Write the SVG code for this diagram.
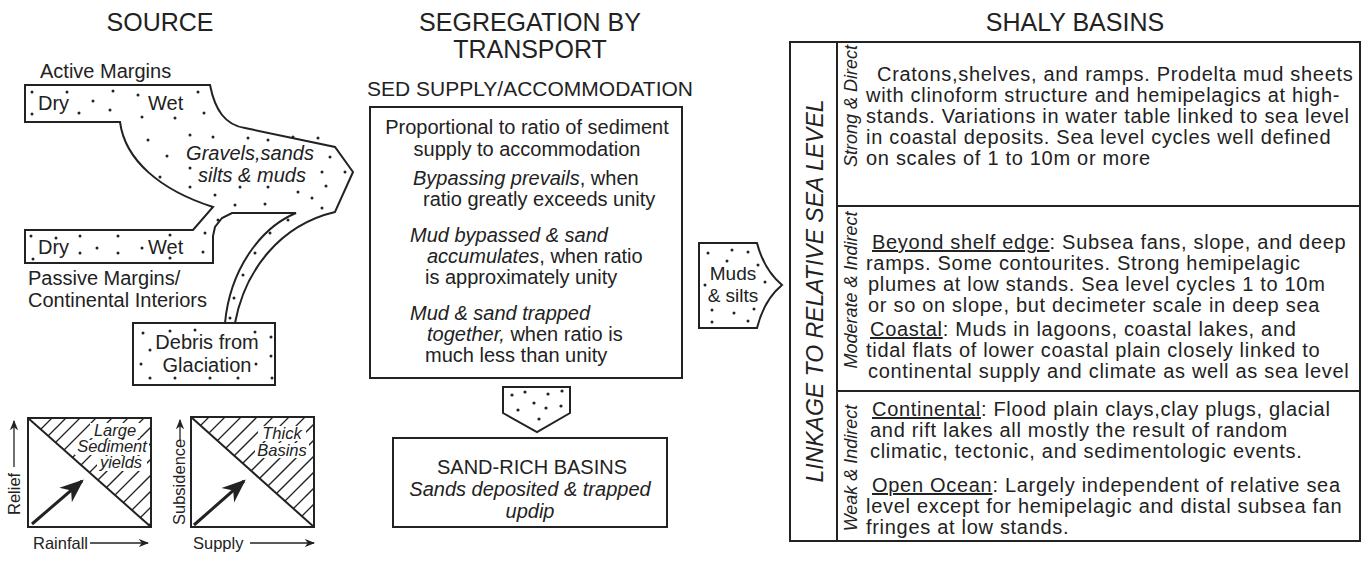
<svg xmlns="http://www.w3.org/2000/svg" width="1368" height="561" viewBox="0 0 1368 561">
<style>
text{font-family:"Liberation Sans",Arial,sans-serif;fill:#222}
.t{font-size:25px}
.n{font-size:20px}
.r{font-size:20px;letter-spacing:0.7px}
.s{font-size:20px}
.i{font-style:italic}
.sh{fill:none;stroke:#222;stroke-width:2}
.th{stroke:#222;stroke-width:1.3}
.d{fill:#222}
.m{text-anchor:middle}
.g{font-size:16.5px}
</style>
<defs>
<marker id="ah" viewBox="0 0 10 10" refX="9" refY="5" markerWidth="8" markerHeight="8" orient="auto"><path d="M0,1 L10,5 L0,9 L3,5z" fill="#222"/></marker>
<clipPath id="c1"><polygon points="28,418 151,418 151,527"/></clipPath>
<clipPath id="c2"><polygon points="191,417 314,417 314,527"/></clipPath>
</defs>
<rect width="1368" height="561" fill="#fff"/>
<text class="t m" x="160" y="31">SOURCE</text>
<text class="t m" x="530" y="31">SEGREGATION BY</text>
<text class="t m" x="530" y="58">TRANSPORT</text>
<text class="m" x="530" y="96" font-size="21">SED SUPPLY/ACCOMMODATION</text>
<text class="t m" x="1075" y="31">SHALY BASINS</text>

<g id="source">
<text class="s" x="40" y="78">Active Margins</text>
<path class="sh" d="M25,85 L210,85 C215,110 225,125 245,128 L335,147 L353,172 L335,212 C280,225 245,270 235,323 L225,323 C230,270 260,228 296,213 L232,213 L222,218 L215,227 L213,236 L213,263 L25,263 L25,230 L193,230 L213,207 C160,190 125,160 120,122 L25,122 Z"/>
<rect class="sh" x="133" y="323" width="142" height="62" fill="#fff"/>
<text class="s" x="38" y="110">Dry</text>
<text class="s" x="148" y="110">Wet</text>
<text class="s i m" x="250" y="160">Gravels,sands</text>
<text class="s i m" x="252" y="182">silts &amp; muds</text>
<text class="s" x="38" y="254">Dry</text>
<text class="s" x="148" y="254">Wet</text>
<text class="s" x="28" y="285">Passive Margins/</text>
<text class="s" x="28" y="307">Continental Interiors</text>
<text class="s m" x="207" y="349">Debris from</text>
<text class="s m" x="207" y="372">Glaciation</text>
<g class="d">
<circle cx="32" cy="92" r="1.5"/><circle cx="67" cy="92" r="1.5"/><circle cx="93" cy="101" r="1.5"/><circle cx="113" cy="91" r="1.5"/><circle cx="138" cy="95" r="1.5"/><circle cx="198" cy="92" r="1.5"/><circle cx="32" cy="114" r="1.5"/><circle cx="79" cy="113" r="1.5"/><circle cx="110" cy="110" r="1.5"/><circle cx="204" cy="113" r="1.5"/><circle cx="142" cy="117" r="1.5"/><circle cx="175" cy="118" r="1.5"/><circle cx="148" cy="140" r="1.5"/><circle cx="190" cy="135" r="1.5"/><circle cx="213" cy="137" r="1.5"/><circle cx="248" cy="138" r="1.5"/><circle cx="268" cy="140" r="1.5"/><circle cx="293" cy="137" r="1.5"/><circle cx="318" cy="138" r="1.5"/><circle cx="167" cy="156" r="1.5"/><circle cx="330" cy="157" r="1.5"/><circle cx="160" cy="177" r="1.5"/><circle cx="190" cy="168" r="1.5"/><circle cx="322" cy="172" r="1.5"/><circle cx="345" cy="172" r="1.5"/><circle cx="190" cy="187" r="1.5"/><circle cx="240" cy="187" r="1.5"/><circle cx="268" cy="187" r="1.5"/><circle cx="298" cy="192" r="1.5"/><circle cx="326" cy="186" r="1.5"/><circle cx="215" cy="195" r="1.5"/><circle cx="312" cy="198" r="1.5"/><circle cx="235" cy="205" r="1.5"/><circle cx="265" cy="204" r="1.5"/><circle cx="322" cy="208" r="1.5"/><circle cx="218" cy="220" r="1.5"/><circle cx="205" cy="233" r="1.5"/><circle cx="288" cy="220" r="1.5"/><circle cx="270" cy="233" r="1.5"/><circle cx="255" cy="253" r="1.5"/><circle cx="243" cy="275" r="1.5"/><circle cx="234" cy="298" r="1.5"/><circle cx="230" cy="318" r="1.5"/>
<circle cx="31" cy="236" r="1.5"/><circle cx="56" cy="238" r="1.5"/><circle cx="80" cy="236" r="1.5"/><circle cx="118" cy="236" r="1.5"/><circle cx="170" cy="235" r="1.5"/><circle cx="33" cy="259" r="1.5"/><circle cx="80" cy="253" r="1.5"/><circle cx="97" cy="248" r="1.5"/><circle cx="118" cy="253" r="1.5"/><circle cx="142" cy="248" r="1.5"/><circle cx="203" cy="252" r="1.5"/><circle cx="170" cy="258" r="1.5"/>
<circle cx="143" cy="333" r="1.5"/><circle cx="170" cy="331" r="1.5"/><circle cx="195" cy="330" r="1.5"/><circle cx="255" cy="332" r="1.5"/><circle cx="271" cy="337" r="1.5"/><circle cx="150" cy="350" r="1.5"/><circle cx="141" cy="364" r="1.5"/><circle cx="256" cy="364" r="1.5"/><circle cx="271" cy="356" r="1.5"/><circle cx="150" cy="378" r="1.5"/><circle cx="175" cy="378" r="1.5"/><circle cx="210" cy="378" r="1.5"/><circle cx="238" cy="378" r="1.5"/><circle cx="272" cy="378" r="1.5"/>
</g>
</g>

<g id="graph1">
<rect class="sh" x="28" y="418" width="123" height="109"/>
<line class="sh" x1="28" y1="418" x2="151" y2="527"/>
<g clip-path="url(#c1)"><g class="th">
<line x1="30" y1="440" x2="60" y2="410"/><line x1="40" y1="444" x2="76" y2="408"/><line x1="50" y1="448" x2="92" y2="406"/><line x1="55" y1="459" x2="108" y2="406"/><line x1="60" y1="470" x2="124" y2="406"/><line x1="68" y1="478" x2="140" y2="406"/><line x1="75" y1="487" x2="156" y2="406"/><line x1="83" y1="495" x2="165" y2="413"/><line x1="90" y1="504" x2="165" y2="429"/><line x1="97" y1="513" x2="165" y2="445"/><line x1="105" y1="521" x2="165" y2="461"/><line x1="112" y1="530" x2="165" y2="477"/><line x1="120" y1="538" x2="165" y2="493"/><line x1="128" y1="546" x2="165" y2="509"/>
</g></g>
<g fill="#fff"><rect x="90" y="423" width="50" height="15"/><rect x="75" y="440" width="74" height="15"/><rect x="97" y="456" width="50" height="15"/></g>
<text class="i m g" x="115" y="436">Large</text>
<text class="i m g" x="112" y="452">Sediment</text>
<text class="i m g" x="121" y="468">yields</text>
<line x1="32" y1="524" x2="82" y2="481" stroke="#222" stroke-width="3" marker-end="url(#ah)"/>
<text class="g" transform="translate(20,515) rotate(-90)">Relief</text>
<line x1="14" y1="467" x2="14" y2="421" stroke="#222" stroke-width="1.3" marker-end="url(#ah)"/>
<text class="g" x="33" y="549">Rainfall</text>
<line x1="90" y1="543" x2="148" y2="543" stroke="#222" stroke-width="1.3" marker-end="url(#ah)"/>
</g>

<g id="graph2">
<rect class="sh" x="191" y="417" width="123" height="110"/>
<line class="sh" x1="191" y1="417" x2="314" y2="527"/>
<g clip-path="url(#c2)"><g class="th">
<line x1="195" y1="431" x2="220" y2="406"/><line x1="205" y1="437" x2="236" y2="406"/><line x1="213" y1="445" x2="252" y2="406"/><line x1="220" y1="454" x2="268" y2="406"/><line x1="228" y1="462" x2="284" y2="406"/><line x1="235" y1="471" x2="300" y2="406"/><line x1="243" y1="479" x2="316" y2="406"/><line x1="250" y1="488" x2="325" y2="413"/><line x1="258" y1="496" x2="325" y2="429"/><line x1="265" y1="505" x2="325" y2="445"/><line x1="273" y1="513" x2="325" y2="461"/><line x1="280" y1="522" x2="325" y2="477"/><line x1="288" y1="530" x2="325" y2="493"/>
</g></g>
<g fill="#fff"><rect x="258" y="426" width="48" height="15"/><rect x="255" y="443" width="54" height="15"/></g>
<text class="i m g" x="282" y="439">Thick</text>
<text class="i m g" x="282" y="456">Basins</text>
<line x1="194" y1="525" x2="244" y2="481" stroke="#222" stroke-width="3" marker-end="url(#ah)"/>
<text class="g" transform="translate(185,525) rotate(-90)">Subsidence</text>
<line x1="180" y1="440" x2="180" y2="420" stroke="#222" stroke-width="1.3" marker-end="url(#ah)"/>
<text class="g" x="193" y="549">Supply</text>
<line x1="250" y1="543" x2="314" y2="543" stroke="#222" stroke-width="1.3" marker-end="url(#ah)"/>
</g>

<g id="ratio">
<rect class="sh" x="370" y="107" width="312" height="271"/>
<text class="n m" x="527" y="134">Proportional to ratio of sediment</text>
<text class="n m" x="527" y="156">supply to accommodation</text>
<text class="n" x="413" y="185"><tspan class="i">Bypassing prevails</tspan>, when</text>
<text class="n" x="423" y="206">ratio greatly exceeds unity</text>
<text class="n i" x="410" y="242">Mud  bypassed &amp; sand</text>
<text class="n" x="427" y="263"><tspan class="i">accumulates</tspan>, when ratio</text>
<text class="n" x="425" y="284">is approximately unity</text>
<text class="n i" x="410" y="320">Mud &amp; sand trapped</text>
<text class="n" x="427" y="341"><tspan class="i">together,</tspan> when ratio is</text>
<text class="n" x="425" y="362">much less than unity</text>
</g>

<g id="down-arrow">
<path class="sh" d="M503,387 L570,387 L570,413 L537,432 L503,413 Z"/>
<g class="d"><circle cx="512" cy="395" r="1.6"/><circle cx="525" cy="392" r="1.6"/><circle cx="548" cy="394" r="1.6"/><circle cx="562" cy="391" r="1.6"/><circle cx="534" cy="403" r="1.6"/><circle cx="518" cy="410" r="1.6"/><circle cx="546" cy="408" r="1.6"/><circle cx="561" cy="406" r="1.6"/><circle cx="539" cy="419" r="1.6"/></g>
</g>

<g id="sandrich">
<rect class="sh" x="393" y="438" width="274" height="89"/>
<text class="n m" x="532" y="474">SAND-RICH BASINS</text>
<text class="n i m" x="530" y="496">Sands deposited &amp; trapped</text>
<text class="n i m" x="530" y="518">updip</text>
</g>

<g id="muds">
<path class="sh" d="M699,243 L757,243 C762,262 770,275 782,285 C770,295 762,308 757,328 L699,328 Z"/>
<text class="m" font-size="19" x="733" y="280">Muds</text>
<text class="m" font-size="19" x="733" y="302">&amp; silts</text>
<g class="d"><circle cx="708" cy="253" r="1.5"/><circle cx="732" cy="250" r="1.5"/><circle cx="748" cy="252" r="1.5"/><circle cx="727" cy="261" r="1.5"/><circle cx="758" cy="265" r="1.5"/><circle cx="765" cy="282" r="1.5"/><circle cx="705" cy="285" r="1.5"/><circle cx="712" cy="310" r="1.5"/><circle cx="734" cy="313" r="1.5"/><circle cx="754" cy="309" r="1.5"/><circle cx="712" cy="322" r="1.5"/><circle cx="748" cy="321" r="1.5"/></g>
</g>

<g id="shaly">
<rect class="sh" x="790" y="42" width="570" height="499"/>
<line class="sh" x1="837" y1="42" x2="837" y2="541"/>
<line class="sh" x1="837" y1="206" x2="1360" y2="206"/>
<line class="sh" x1="837" y1="391" x2="1360" y2="391"/>
<text class="i m" font-size="23" transform="translate(823,291) rotate(-90)">LINKAGE TO RELATIVE SEA LEVEL</text>
<text class="i m" font-size="18" transform="translate(857,106) rotate(-90)">Strong &amp; Direct</text>
<text class="i m" font-size="18" transform="translate(857,290) rotate(-90)">Moderate &amp; Indirect</text>
<text class="i m" font-size="18" transform="translate(857,468) rotate(-90)">Weak &amp; Indirect</text>
<text class="r" x="877" y="81">Cratons,shelves, and ramps. Prodelta mud sheets</text>
<text class="r" x="866" y="102">with clinoform structure and hemipelagics at high-</text>
<text class="r" x="866" y="123">stands. Variations in water table linked to sea level</text>
<text class="r" x="866" y="144">in coastal deposits. Sea level cycles well defined</text>
<text class="r" x="866" y="165">on scales of 1 to 10m or more</text>
<text class="r" x="872" y="249"><tspan text-decoration="underline">Beyond shelf edge</tspan>: Subsea fans, slope, and deep</text>
<text class="r" x="866" y="270">ramps. Some contourites. Strong hemipelagic</text>
<text class="r" x="868" y="291">plumes at low stands. Sea level cycles 1 to 10m</text>
<text class="r" x="868" y="312">or so  on slope, but decimeter scale in deep sea</text>
<text class="r" x="870" y="336"><tspan text-decoration="underline">Coastal</tspan>: Muds in lagoons, coastal lakes, and</text>
<text class="r" x="866" y="357">tidal flats of lower coastal plain closely linked to</text>
<text class="r" x="868" y="378">continental supply and climate as well as sea level</text>
<text class="r" x="872" y="416"><tspan text-decoration="underline">Continental</tspan>: Flood plain clays,clay plugs, glacial</text>
<text class="r" x="870" y="437">and rift lakes all mostly the result of random</text>
<text class="r" x="870" y="458">climatic, tectonic, and sedimentologic events.</text>
<text class="r" x="872" y="492"><tspan text-decoration="underline">Open Ocean</tspan>: Largely independent of relative sea</text>
<text class="r" x="866" y="513">level except for hemipelagic and distal subsea fan</text>
<text class="r" x="866" y="534">fringes at low stands.</text>
</g>
</svg>
